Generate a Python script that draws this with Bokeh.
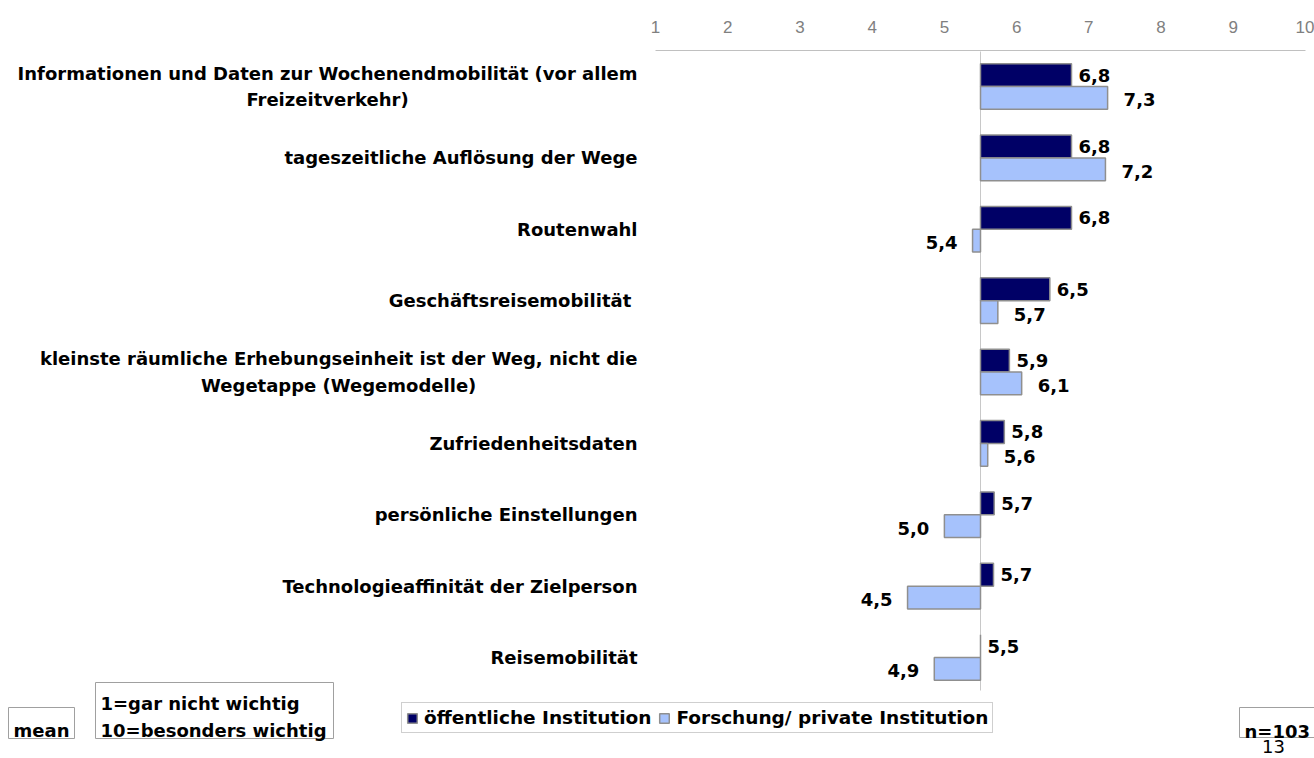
from bokeh.plotting import figure
from bokeh.models import ColumnDataSource, Range1d, FixedTicker, Legend, LegendItem
from bokeh.core.properties import value
from bokeh.embed import file_html
from bokeh.resources import INLINE

# ---------------- data ----------------
categories = [
    "Informationen und Daten zur Wochenendmobilität (vor allem\nFreizeitverkehr)",
    "tageszeitliche Auflösung der Wege",
    "Routenwahl",
    "Geschäftsreisemobilität ",
    "kleinste räumliche Erhebungseinheit ist der Weg, nicht die\nWegetappe (Wegemodelle)",
    "Zufriedenheitsdaten",
    "persönliche Einstellungen",
    "Technologieaffinität der Zielperson",
    "Reisemobilität",
]
public_values = [6.76, 6.76, 6.76, 6.46, 5.90, 5.83, 5.69, 5.68, 5.50]
private_values = [7.26, 7.23, 5.39, 5.74, 6.07, 5.60, 5.00, 4.49, 4.86]
series_names = ["öffentliche Institution", "Forschung/ private Institution"]
tick_values = [1, 2, 3, 4, 5, 6, 7, 8, 9, 10]
scale_notes = ["1=gar nicht wichtig", "10=besonders wichtig"]
stat_label = "mean"
sample_note = "n=103"
page_number = "13"
BASELINE = 5.5

# ---------------- layout ----------------
W, H = 1314, 758
PAGE = 0
PX_X = 650 / 9.0      # pixels per scale unit
X_IMG_1 = 655         # page x of value 1
PX_Y = 71.375         # pixels per category
Y_IMG_0 = 86          # page y of first category centre
TOP_BORDER = 50

DARK = "#000066"
LIGHT = "#a6c2fc"
BORDER = "#8f8f8f"
BOX_LINE = "#a0a0a0"
FONT = value("DejaVu Sans")
FS = "18px"


def X(img):
    return 1 + (img - X_IMG_1) / PX_X


def Y(img):
    return (img - Y_IMG_0) / PX_Y


def fmt(v):
    return f"{v:.1f}".replace(".", ",")


try:
    from PIL import ImageFont
    _font = ImageFont.truetype("DejaVuSans-Bold.ttf", 18)

    def text_width(s):
        return _font.getlength(s)
except Exception:
    def text_width(s):
        return 0.62 * 18 * len(s)

p = figure(width=W, height=H, output_backend="svg", toolbar_location=None, title=None,
           x_range=Range1d(X(PAGE), X(PAGE + W)),
           y_range=Range1d(Y(PAGE + H), Y(PAGE + TOP_BORDER)),
           x_axis_location="above", y_axis_location=None,
           min_border_left=0, min_border_right=0, min_border_bottom=0,
           min_border_top=TOP_BORDER)
p.outline_line_color = None
p.grid.visible = False
p.background_fill_color = "white"
p.border_fill_color = "white"

ax = p.xaxis[0]
ax.ticker = FixedTicker(ticks=tick_values)
ax.bounds = (tick_values[0], tick_values[-1])
ax.axis_line_color = "#c0c0c0"
ax.axis_line_width = 1
ax.major_tick_line_color = None
ax.minor_tick_line_color = None
ax.major_tick_out = 0
ax.major_tick_in = 0
ax.minor_tick_out = 0
ax.minor_tick_in = 0
ax.major_label_text_font = "Liberation Sans"
ax.major_label_text_font_size = "17px"
ax.major_label_text_color = "#808080"
ax.major_label_standoff = 18

n = len(categories)
idx = list(range(n))
OFF = 0.16
BH = 0.32

# baseline (scale midpoint)
p.segment(x0=[BASELINE], y0=[Y(51)], x1=[BASELINE], y1=[Y(690)],
          line_color="#c8c8c8", line_width=1)

src = ColumnDataSource(dict(
    y_pub=[i - OFF for i in idx],
    y_priv=[i + OFF for i in idx],
    pub=public_values,
    priv=private_values,
    base=[BASELINE] * n,
))
r_pub = p.hbar(y="y_pub", left="base", right="pub", height=BH, source=src,
               fill_color=DARK, line_color=BORDER, line_width=1.5)
r_priv = p.hbar(y="y_priv", left="base", right="priv", height=BH, source=src,
                fill_color=LIGHT, line_color=BORDER, line_width=1.5)

# value labels
lab_l = dict(x=[], y=[], t=[], xo=[], yo=[])
lab_r = dict(x=[], y=[], t=[], xo=[], yo=[])
for i in idx:
    v = public_values[i]
    d = lab_l if v >= BASELINE else lab_r
    d["x"].append(v); d["y"].append(i - OFF); d["t"].append(fmt(v))
    d["xo"].append(7 if v >= BASELINE else -7); d["yo"].append(0)
    v = private_values[i]
    d = lab_l if v >= BASELINE else lab_r
    d["x"].append(v); d["y"].append(i + OFF); d["t"].append(fmt(v))
    d["xo"].append(16 if v >= BASELINE else -15); d["yo"].append(2)

p.text(x="x", y="y", text="t", x_offset="xo", y_offset="yo",
       source=ColumnDataSource(lab_l), text_font=FONT, text_font_style="bold",
       text_font_size=FS, text_align="left", text_baseline="middle", text_color="black")
p.text(x="x", y="y", text="t", x_offset="xo", y_offset="yo",
       source=ColumnDataSource(lab_r), text_font=FONT, text_font_style="bold",
       text_font_size=FS, text_align="right", text_baseline="middle", text_color="black")

# category labels (right edge at page x 637, lines centred on each other)
RIGHT_IMG = 637
cx, cy = [], []
for i, c in enumerate(categories):
    w = max(text_width(line) for line in c.split("\n"))
    cx.append(X(RIGHT_IMG - w / 2.0))
    cy.append(i)
p.text(x=cx, y=cy, text=categories, text_font=FONT, text_font_style="bold",
       text_font_size=FS, text_align="center", text_baseline="middle",
       text_line_height=1.28, text_color="black")

# bottom boxes
p.quad(left=[X(8), X(95), X(1239)], right=[X(74), X(333), X(1330)],
       top=[Y(707), Y(682), Y(707)], bottom=[Y(738), Y(738), Y(737)],
       fill_color="white", line_color=BOX_LINE, line_width=1)
p.text(x=[X(41)], y=[Y(730)], text=[stat_label], text_font=FONT, text_font_style="bold",
       text_font_size=FS, text_align="center", text_baseline="alphabetic")
p.text(x=[X(100), X(100)], y=[Y(703), Y(730)], text=scale_notes, text_font=FONT,
       text_font_style="bold", text_font_size=FS, text_align="left",
       text_baseline="alphabetic")
p.text(x=[X(1244)], y=[Y(731)], text=[sample_note], text_font=FONT, text_font_style="bold",
       text_font_size=FS, text_align="left", text_baseline="alphabetic")
p.text(x=[X(1273)], y=[Y(739)], text=[page_number], text_font=FONT,
       text_font_size=FS, text_align="center", text_baseline="top")

legend = Legend(items=[LegendItem(label=series_names[0], renderers=[r_pub]),
                       LegendItem(label=series_names[1], renderers=[r_priv])],
                orientation="horizontal", location=(401, 25),
                label_text_font="DejaVu Sans", label_text_font_style="bold",
                label_text_font_size="18.5px", label_text_color="black",
                glyph_width=12, glyph_height=12,
                label_standoff=6, spacing=7, padding=4, margin=0, label_height=19,
                border_line_color=BOX_LINE, border_line_width=1,
                background_fill_color="white", background_fill_alpha=1.0)
p.add_layout(legend)

open("out.html", "w").write(file_html(p, INLINE))
